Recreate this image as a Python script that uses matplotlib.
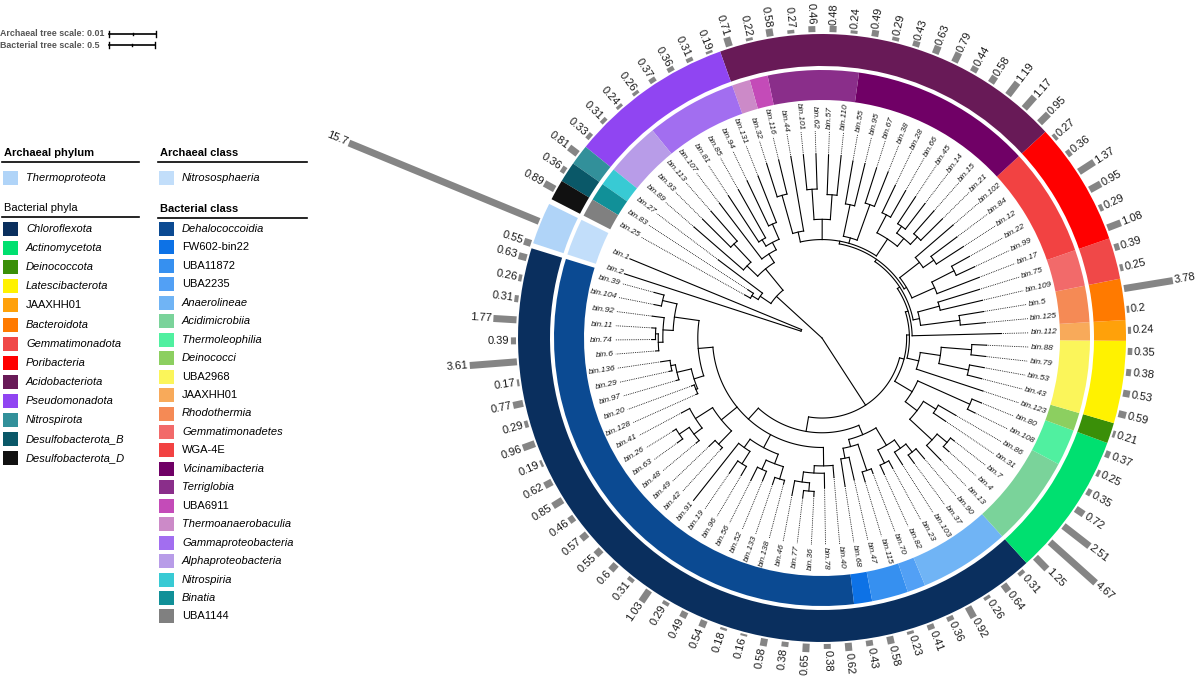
import numpy as np
import matplotlib.pyplot as plt
from matplotlib.patches import Wedge, Polygon, Rectangle

plt.rcParams['font.family'] = ['Liberation Sans', 'DejaVu Sans']

# ---------------- data ----------------
archaea = ["bin.1", "bin.2"]
archaea_values = [15.7, 0.55]

# bacterial leaves, counter-clockwise from the archaeal gap
leaves = ["bin.39", "bin.104", "bin.92", "bin.11", "bin.74", "bin.6", "bin.136", "bin.29",
          "bin.97", "bin.20", "bin.128", "bin.41", "bin.26", "bin.63", "bin.48", "bin.49",
          "bin.42", "bin.91", "bin.19", "bin.96", "bin.56", "bin.52", "bin.133", "bin.138",
          "bin.46", "bin.77", "bin.36", "bin.78", "bin.40", "bin.68", "bin.47", "bin.115",
          "bin.70", "bin.82", "bin.23", "bin.103", "bin.37", "bin.90",
          "bin.13", "bin.4", "bin.7", "bin.31", "bin.86", "bin.108", "bin.80",
          "bin.123", "bin.43", "bin.53", "bin.79", "bin.88", "bin.112", "bin.125", "bin.5",
          "bin.109", "bin.75", "bin.17", "bin.99", "bin.22", "bin.12", "bin.84", "bin.102",
          "bin.21", "bin.15", "bin.14", "bin.45", "bin.66", "bin.28", "bin.38", "bin.67",
          "bin.95", "bin.55", "bin.110", "bin.57", "bin.62", "bin.101", "bin.44", "bin.116",
          "bin.32", "bin.131", "bin.94", "bin.85", "bin.81", "bin.107", "bin.113", "bin.93",
          "bin.89", "bin.27", "bin.83", "bin.25"]

values = [0.63, 0.26, 0.31, 1.77, 0.39, 3.61, 0.17, 0.77, 0.29, 0.96, 0.19, 0.62, 0.85,
          0.46, 0.57, 0.55, 0.6, 0.31, 1.03, 0.29, 0.49, 0.54, 0.18, 0.16, 0.58, 0.38,
          0.65, 0.38, 0.62, 0.43, 0.58, 0.23, 0.41, 0.36, 0.92, 0.26, 0.64, 0.31,
          1.25, 4.67, 2.51, 0.72, 0.35, 0.25, 0.37,
          0.21, 0.59, 0.53, 0.38, 0.35, 0.24, 0.2, 3.78, 0.25, 0.39,
          1.08, 0.29, 0.95, 1.37, 0.36, 0.27,
          0.95, 1.17, 1.19, 0.58, 0.44, 0.79, 0.63, 0.43, 0.29, 0.49, 0.24, 0.48, 0.46,
          0.27, 0.58, 0.22, 0.71,
          0.19, 0.31, 0.36, 0.37, 0.26, 0.24, 0.31, 0.33, 0.81, 0.36, 0.89]

phyla = ["Chloroflexota", "Actinomycetota", "Deinococcota", "Latescibacterota", "JAAXHH01",
         "Bacteroidota", "Gemmatimonadota", "Poribacteria", "Acidobacteriota",
         "Pseudomonadota", "Nitrospirota", "Desulfobacterota_B", "Desulfobacterota_D"]
phyla_counts = [38, 7, 1, 4, 1, 2, 2, 6, 17, 8, 1, 1, 1]
phyla_colors = ["#0a2f5e", "#00e070", "#3a8f08", "#fff200", "#ffa10a", "#ff7a00",
                "#f04848", "#ff0000", "#681a57", "#9045f2", "#32909a", "#0a5868", "#111111"]

classes = ["Dehalococcoidia", "FW602-bin22", "UBA11872", "UBA2235", "Anaerolineae",
           "Acidimicrobiia", "Thermoleophilia", "Deinococci", "UBA2968", "JAAXHH01",
           "Rhodothermia", "Gemmatimonadetes", "WGA-4E", "Vicinamibacteria", "Terriglobia",
           "UBA6911", "Thermoanaerobaculia", "Gammaproteobacteria", "Alphaproteobacteria",
           "Nitrospiria", "Binatia", "UBA1144"]
class_counts = [29, 1, 2, 1, 5, 5, 2, 1, 4, 1, 2, 2, 6, 10, 5, 1, 1, 5, 3, 1, 1, 1]
class_colors = ["#0b4a92", "#0d72e6", "#3690f0", "#52a0f5", "#70b4f5", "#7ad39a",
                "#50f0a0", "#8ccf60", "#fbf55a", "#f8aa5a", "#f58a55", "#f26a6a",
                "#f24242", "#700066", "#8a2e8a", "#c44bb8", "#cc8ac8", "#a26ef0",
                "#b89ce8", "#38cad4", "#119098", "#808080"]
upright = {"FW602-bin22", "UBA11872", "UBA2235", "UBA2968", "JAAXHH01", "WGA-4E",
           "UBA6911", "UBA1144"}

arch_phylum, arch_phylum_color = "Thermoproteota", "#b0d4f8"
arch_class, arch_class_color = "Nitrososphaeria", "#c2defa"

# bacterial tree, branch lengths in substitutions/site (built clade by clade)
DA1 = "((bin.39:0.11,bin.104:0.08):0.16,(bin.92:0.13,((bin.11:0.04,bin.74:0.04):0.03,bin.6:0.03):0.05):0.11)"
DA2 = "(((bin.136:0.1,bin.29:0.03):0.05,bin.97:0.03):0.16,(bin.20:0.03,bin.128:0.02):0.02)"
DA = f"({DA1}:0.27,{DA2}:0.11)"
DB = "((bin.41:0.1,((bin.26:0.04,bin.63:0.07):0.13,bin.48:0.04):0.11):0.22,(bin.49:0.09,bin.42:0.03):0.2)"
DC = ("((bin.91:0.79,(bin.19:0.16,bin.96:0.11):0.16):0.11,"
      "((bin.56:0.16,bin.52:0.11):0.11,(bin.133:0.08,bin.138:0.04):0.14):0.11)")
DD = "(((bin.46:0.16,(bin.77:0.08,bin.36:0.05):0.09):0.11,bin.78:0.16):0.08,bin.40:0.13)"
DEHALO = f"({DA}:0.16,{DB}:0.22,{DC}:0.16,{DD}:0.2)"
CO1 = "((bin.68:0.3,bin.47:0.25):0.11,(bin.115:0.11,bin.70:0.05):0.3)"
ANAERO = "((bin.82:0.11,bin.23:0.09):0.16,(bin.103:0.16,(bin.37:0.11,bin.90:0.14):0.11):0.11)"
CHLORO = f"({DEHALO}:0.16,({CO1}:0.08,{ANAERO}:0.22):0.11)"
ACTINO = ("(((bin.13:0.22,(bin.4:0.08,bin.7:0.05):0.14):0.33,(bin.31:0.16,bin.86:0.22):0.16):0.16,"
          "(bin.108:0.09,bin.80:0.11):0.62)")
DEINOLAT = "(bin.123:0.76,((bin.43:0.16,bin.53:0.16):0.33,(bin.79:0.16,bin.88:0.16):0.33):0.22)"
BACT_GEMM = "((bin.125:0.27,bin.5:0.27):0.43,(bin.109:0.47,bin.75:0.47):0.24)"
PORI = ("((bin.17:0.49,(bin.99:0.22,bin.22:0.22):0.27):0.27,"
        "((bin.12:0.35,bin.84:0.35):0.14,bin.102:0.54):0.27)")
A1 = "(((bin.21:0.33,bin.15:0.33):0.11,(bin.14:0.35,bin.45:0.35):0.09):0.11,(bin.66:0.33,bin.28:0.33):0.22)"
A2 = "((bin.38:0.4,bin.67:0.4):0.41,(bin.95:0.47,bin.55:0.47):0.35)"
A3 = "((bin.110:0.43,bin.57:0.43):0.27,(bin.62:0.38,bin.101:0.38):0.33)"
A4 = "(bin.44:0.82,(bin.116:0.38,bin.32:0.38):0.43)"
ACIDO = f"({A1}:0.22,{A2}:0.06,{A3}:0.22,{A4}:0.11)"
GAMMA = "(((bin.131:0.54,bin.94:0.54):0.18,(bin.85:0.6,bin.81:0.6):0.08):0.09,bin.107:0.76)"
ALPHA = "((bin.113:0.43,bin.93:0.43):0.27,bin.89:0.71)"
DESULFO = "(bin.27:0.6,(bin.83:0.07,bin.25:0.07):0.08)"
OTHERS = (f"({ACTINO}:0.22,({DEINOLAT}:0.13,(bin.112:0.97,({BACT_GEMM}:0.07,"
          f"({PORI}:0.03,{ACIDO}:0.03):0.03):0.03):0.03):0.03)")
bact_newick = (f"(({CHLORO}:0.16,{OTHERS}:0.05):0.87,"
               f"(({GAMMA}:0.11,{ALPHA}:0.16):0.3,{DESULFO}:0.14):0.67);")
arch_newick = "(bin.1:0.0395,bin.2:0.0395):0.0047;"

# ---------------- geometry ----------------
CX, CY = 822, 338
UNIT_PX = 92.0         # bacterial scale: 0.5 -> 46 px
ARCH_UNIT_PX = 4700.0  # archaeal scale: 0.01 -> 47 px
START, ARC = 164.8, 350.0
STEP = ARC / len(leaves)
R_LABEL = 209
R_IN0, R_IN1 = 238, 268
R_OUT0, R_OUT1 = 272, 304
R_BAR = 306
BAR_PX = 13.1
BAR_W = 7.0

angle_of = {name: START + i * STEP for i, name in enumerate(leaves)}
gap_mid = START + ARC + (360 - ARC) / 2 - 360
angle_of["bin.1"] = gap_mid - 2.2
angle_of["bin.2"] = gap_mid + 2.2


def P(r, a):
    t = np.radians(a)
    return CX + r * np.cos(t), CY - r * np.sin(t)


def parse_newick(s):
    s = "".join(s.split()).rstrip(";")
    pos = 0

    def node():
        nonlocal pos
        kids = []
        if s[pos] == "(":
            pos += 1
            kids.append(node())
            while s[pos] == ",":
                pos += 1
                kids.append(node())
            assert s[pos] == ")", s[pos - 20:pos + 20]
            pos += 1
        st = pos
        while pos < len(s) and s[pos] not in ",):":
            pos += 1
        name = s[st:pos]
        ln = 0.0
        if pos < len(s) and s[pos] == ":":
            pos += 1
            st = pos
            while pos < len(s) and s[pos] not in ",)":
                pos += 1
            ln = float(s[st:pos])
        return {"name": name, "len": ln, "kids": kids}

    tree = node()
    assert pos == len(s), f"unparsed tail: {s[pos:pos + 40]}"
    return tree


def layout(n, r0, scale, root=False):
    n["r"] = 0.0 if root else r0 + n["len"] * scale
    if n["kids"]:
        for c in n["kids"]:
            layout(c, n["r"], scale)
        a = [c["a"] for c in n["kids"]]
        n["a"] = (min(a) + max(a)) / 2
    else:
        n["a"] = angle_of[n["name"]]


def tips(n):
    return [n["name"]] if not n["kids"] else sum((tips(c) for c in n["kids"]), [])


fig = plt.figure(figsize=(12, 6.77), dpi=100)
ax = fig.add_axes([0, 0, 1, 1])
ax.set_xlim(0, 1200)
ax.set_ylim(677, 0)
ax.axis("off")

TREE_KW = dict(color="black", lw=0.8, solid_capstyle="projecting")


def draw(n):
    if not n["kids"]:
        if n["r"] < R_LABEL - 2:
            x0, y0 = P(n["r"], n["a"])
            x1, y1 = P(R_LABEL - 2, n["a"])
            ax.plot([x0, x1], [y0, y1], color="black", lw=0.6, ls=(0, (1, 1.2)))
        return
    a = [c["a"] for c in n["kids"]]
    if n["r"] > 0:
        t = np.linspace(min(a), max(a), 80)
        xs, ys = P(n["r"], t)
        ax.plot(xs, ys, **TREE_KW)
    for c in n["kids"]:
        x0, y0 = P(n["r"], c["a"])
        x1, y1 = P(c["r"], c["a"])
        ax.plot([x0, x1], [y0, y1], **TREE_KW)
        draw(c)


bact = parse_newick(bact_newick)
assert tips(bact) == leaves, "tree leaf order differs from ring order"
layout(bact, 0, UNIT_PX, root=True)
draw(bact)

arch = parse_newick(arch_newick)
layout(arch, 0, ARCH_UNIT_PX)
draw(arch)


# ---------------- rings ----------------
def ring(r0, r1, a0, a1, color):
    # the axis is y-inverted, so wedge angles are mirrored
    ax.add_patch(Wedge((CX, CY), r1, -a1, -a0, width=r1 - r0, facecolor=color,
                       edgecolor="none"))


def runs(counts):
    i = 0
    for c in counts:
        yield START + (i - 0.5) * STEP, START + (i + c - 0.5) * STEP
        i += c


for (a0, a1), col in zip(runs(phyla_counts), phyla_colors):
    ring(R_OUT0, R_OUT1, a0, a1, col)
for (a0, a1), col in zip(runs(class_counts), class_colors):
    ring(R_IN0, R_IN1, a0, a1, col)

arch_a0 = START + ARC - 360 - 0.5 * STEP + 1.0
arch_a1 = START - 0.5 * STEP - 1.0
ring(R_OUT0, R_OUT1, arch_a0, arch_a1, arch_phylum_color)
ring(R_IN0, R_IN1, arch_a0, arch_a1, arch_class_color)


# ---------------- labels & bars ----------------
def radial_text(r, a, s, **kw):
    a = (a + 180) % 360 - 180
    x, y = P(r, a)
    if -90 <= a <= 90:
        ax.text(x, y, s, rotation=a, ha="left", va="center", rotation_mode="anchor", **kw)
    else:
        ax.text(x, y, s, rotation=a + 180, ha="right", va="center", rotation_mode="anchor", **kw)


def bar(a, v):
    t = np.radians(a)
    u = np.array([np.cos(t), -np.sin(t)])
    nrm = np.array([np.sin(t), np.cos(t)])
    c = np.array([CX, CY])
    r1 = R_BAR + v * BAR_PX
    pts = [c + u * R_BAR + nrm * BAR_W / 2, c + u * r1 + nrm * BAR_W / 2,
           c + u * r1 - nrm * BAR_W / 2, c + u * R_BAR - nrm * BAR_W / 2]
    ax.add_patch(Polygon(pts, closed=True, facecolor="#858585", edgecolor="none"))
    radial_text(r1 + 1.5, a, f"{v:g}", fontsize=8, color="#1a1a1a")


for name, v in list(zip(leaves, values)) + list(zip(archaea, archaea_values)):
    a = angle_of[name]
    radial_text(R_LABEL, a, name, fontsize=6, style="italic", color="#1a1a1a")
    bar(a, v)

# ---------------- legend ----------------
TXT = dict(fontsize=8, va="center", color="black")


def header(x, y, s, w, bold=True):
    ax.text(x, y, s, fontweight="bold" if bold else "normal", **TXT)
    ax.plot([x - 2, x - 2 + w], [y + 9, y + 9], color="black", lw=1.2)


def entry(x, y, s, col):
    ax.add_patch(Rectangle((x, y - 7), 15, 14, facecolor=col, edgecolor="none"))
    ax.text(x + 23, y, s, style="normal" if s in upright else "italic", **TXT)


header(4, 153, "Archaeal phylum", 137)
entry(3, 178, arch_phylum, arch_phylum_color)
header(160, 153, "Archaeal class", 149)
entry(159, 178, arch_class, arch_class_color)

header(4, 208, "Bacterial phyla", 137, bold=False)
for k, (s, col) in enumerate(zip(phyla, phyla_colors)):
    entry(3, 229 + k * 19.1, s, col)
header(160, 209, "Bacterial class", 149)
for k, (s, col) in enumerate(zip(classes, class_colors)):
    entry(159, 229 + k * 18.45, s, col)

# tree scales
for y, lab, length in [(34, "Archaeal tree scale: 0.01", 0.01 * ARCH_UNIT_PX),
                       (45, "Bacterial tree scale: 0.5", 0.5 * UNIT_PX)]:
    ax.text(0, y, lab, fontsize=6.4, fontweight="bold", color="#555555", va="center")
    x0 = 109
    ax.plot([x0, x0 + length], [y, y], color="black", lw=1.2)
    for xt, h in [(x0, 3), (x0 + length, 3), (x0 + length / 2, 1.2)]:
        ax.plot([xt, xt], [y - h, y + h], color="black", lw=1.0)

fig.savefig("out.png", dpi=100)
